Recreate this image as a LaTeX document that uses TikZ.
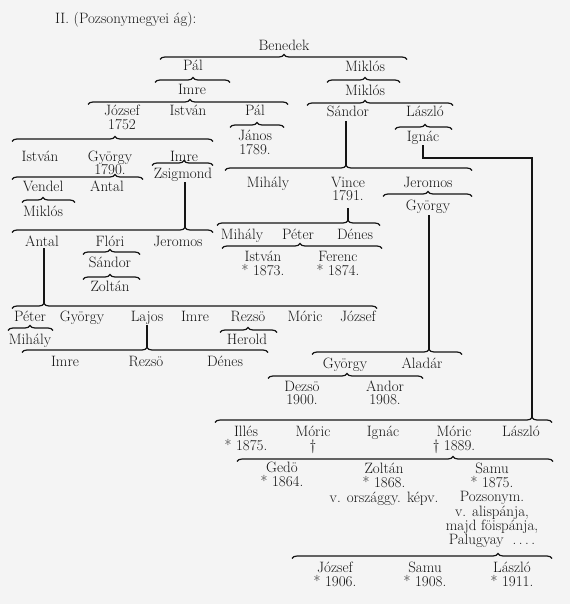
\documentclass[tikz,border=0pt]{standalone}
\usepackage{amsmath}
\usetikzlibrary{decorations.pathreplacing}
\definecolor{paper}{HTML}{F4F4F4}
\definecolor{ink}{HTML}{141414}

% brace under a parent: name, left end, tip, right end, height of the bar
\newcommand{\kinbrace}[5]{%
  \pgfmathsetmacro{\kinasp}{(#3-#2)/(#4-#2)}%
  \draw[kin, decoration={brace, amplitude=5pt, aspect=\kinasp}] (#2,#5+2.5) -- (#4,#5+2.5);
  \coordinate (#1) at (#3,#5-2.5);
}
% name over date, baseline on the first line
\newcommand{\kinlines}[1]{\begin{tabular}[t]{@{}c@{}}#1\end{tabular}}

\begin{document}
\begin{tikzpicture}[x=1pt, y=-1pt,
  every node/.style={inner sep=0pt, anchor=base, text=ink,
    font=\fontsize{15}{12.5}\selectfont},
  kin/.style={decorate, line width=1.2pt, draw=ink},
  link/.style={line width=1.4pt, draw=ink}]
\fill[paper] (0,0) rectangle (570,604);
\useasboundingbox (0,0) rectangle (570,604);

\node[anchor=base west] (title) at (55,24) {II. (Pozsonymegyei ág):};

\node (benedek) at (284,51) {Benedek};
\kinbrace{benedek-fam}{160}{284}{407}{57}
  \node (pal1) at (193,71) {Pál};
  \node (miklos1) at (365,72) {Miklós};
\kinbrace{pal1-fam}{155}{193}{230}{80}
\kinbrace{miklos1-fam}{327}{365}{400}{80}
  \node (imre1) at (192,95) {Imre};
  \node (miklos2) at (365,96) {Miklós};
\kinbrace{imre1-fam}{88}{190}{288}{102}
\kinbrace{miklos2-fam}{307}{365}{453}{103}
  \node (jozsef1) at (122,116) {\kinlines{József\\1752}};
  \node (istvan1) at (188,116) {István};
  \node (pal2) at (255,116) {Pál};
  \node (sandor1) at (348,117) {Sándor};
  \node (laszlo1) at (425,117) {László};
\kinbrace{pal2-fam}{230}{257}{284}{125}
  \node (janos) at (255,141) {\kinlines{János\\1789.}};
\kinbrace{laszlo1-fam}{395}{425}{452}{127}
  \node (ignac1) at (423,142) {Ignác};

% left branch
\kinbrace{jozsef1-fam}{12}{115}{213}{139}
  \node (istvan2) at (40,161) {István};
  \node (gyorgy1) at (110,161) {\kinlines{György\\1790.}};
  \node (imre2) at (184,161) {Imre};
\kinbrace{imre2-fam}{152}{184}{213}{163}
  \node (zsigmond) at (183,178) {Zsigmond};
\kinbrace{gyorgy1-fam}{12}{115}{143}{177}
  \node (vendel) at (43,191) {Vendel};
  \node (antal1) at (107,191) {Antal};
\kinbrace{vendel-fam}{22}{43}{75}{200}
  \node (miklos3) at (43,216) {Miklós};
\kinbrace{zsigmond-fam}{12}{185}{213}{230}
\draw[link, shorten >=1pt] (zsigmond-fam) -- (zsigmond-fam |- zsigmond.south);
  \node (antal2) at (42,246) {Antal};
  \node (flori) at (110,246) {Flóri};
  \node (jeromos1) at (178,246) {Jeromos};
\kinbrace{flori-fam}{83}{110}{140}{252}
  \node (sandor2) at (110,267) {Sándor};
\kinbrace{sandor2-fam}{83}{110}{140}{277}
  \node (zoltan1) at (110,291) {Zoltán};
\kinbrace{antal2-fam}{12}{44}{377}{306}
\draw[link, shorten >=2pt] (antal2-fam) -- (antal2-fam |- antal2.south);
  \node (peter1) at (30,321) {Péter};
  \node (gyorgy2) at (82,321) {György};
  \node (lajos) at (147,321) {Lajos};
  \node (imre3) at (195,321) {Imre};
  \node (rezso1) at (248,321) {Rezsö};
  \node (moric1) at (305,321) {Móric};
  \node (jozsef2) at (358,321) {József};
\kinbrace{peter1-fam}{8}{30}{53}{328}
  \node (mihaly1) at (30,344) {Mihály};
\kinbrace{rezso1-fam}{220}{248}{277}{330}
  \node (herold) at (247,344) {Herold};
\kinbrace{lajos-fam}{22}{147}{268}{350}
\draw[link, shorten >=1pt] (lajos-fam) -- (lajos-fam |- lajos.south);
  \node (imre4) at (65,366) {Imre};
  \node (rezso2) at (146,366) {Rezsö};
  \node (denes1) at (225,366) {Dénes};

% right branch
\kinbrace{sandor1-fam}{225}{346}{472}{168}
\draw[link, shorten >=4pt] (sandor1-fam) -- (sandor1-fam |- sandor1.south);
  \node (mihaly2) at (268,187) {Mihály};
  \node (vince) at (348,187) {\kinlines{Vince\\1791.}};
  \node (jeromos2) at (428,187) {Jeromos};
\kinbrace{jeromos2-fam}{383}{428}{472}{194}
  \node (gyorgy3) at (428,210) {György};
\kinbrace{vince-fam}{217}{348}{380}{223}
\draw[link, shorten >=3pt] (vince-fam) -- (vince-fam |- vince.south);
  \node (mihaly3) at (242,239) {Mihály};
  \node (peter2) at (298,239) {Péter};
  \node (denes2) at (355,239) {Dénes};
\kinbrace{peter2-fam}{222}{300}{382}{246}
  \node (istvan3) at (263,261) {\kinlines{István\\{*} 1873.}};
  \node (ferenc) at (338,261) {\kinlines{Ferenc\\{*} 1874.}};
\kinbrace{gyorgy3-fam}{312}{429}{462}{352}
\draw[link, shorten >=2pt] (gyorgy3-fam) -- (gyorgy3-fam |- gyorgy3.south);
  \node (gyorgy4) at (345,368) {György};
  \node (aladar) at (422,368) {Aladár};
\kinbrace{gyorgy4-fam}{268}{347}{423}{376}
  \node (dezso) at (302,391) {\kinlines{Dezsö\\1900.}};
  \node (andor) at (385,391) {\kinlines{Andor\\1908.}};

\kinbrace{laszlo2-fam}{215}{532}{552}{420}
\coordinate (bend) at (532,158);
\draw[link] (ignac1.south) |- (bend) -- (laszlo2-fam);
  \node (illes) at (246,436) {\kinlines{Illés\\{*} 1875.}};
  \node (moric2) at (313,436) {\kinlines{Móric\\†}};
  \node (ignac2) at (383,436) {Ignác};
  \node (moric3) at (454,436) {\kinlines{Móric\\† 1889.}};
  \node (laszlo3) at (521,436) {László};
\kinbrace{moric3-fam}{237}{453}{553}{459}
  \node (gedo) at (282,472) {\kinlines{Gedö\\{*} 1864.}};
  \node (zoltan2) at (384,473) {\kinlines{Zoltán\\{*} 1868.\\v. országgy. képv.}};
  \node (samu1) at (492,473) {\kinlines{Samu\\{*} 1875.\\Pozsonym.\\v. alispánja,\\majd föispánja,\\Palugyay\ \ .\,.\,.\,.}};
\kinbrace{samu1-fam}{292}{498}{552}{556}
  \node (jozsef3) at (335,572) {\kinlines{József\\{*} 1906.}};
  \node (samu2) at (425,572) {\kinlines{Samu\\{*} 1908.}};
  \node (laszlo4) at (512,572) {\kinlines{László\\{*} 1911.}};
\end{tikzpicture}
\end{document}
